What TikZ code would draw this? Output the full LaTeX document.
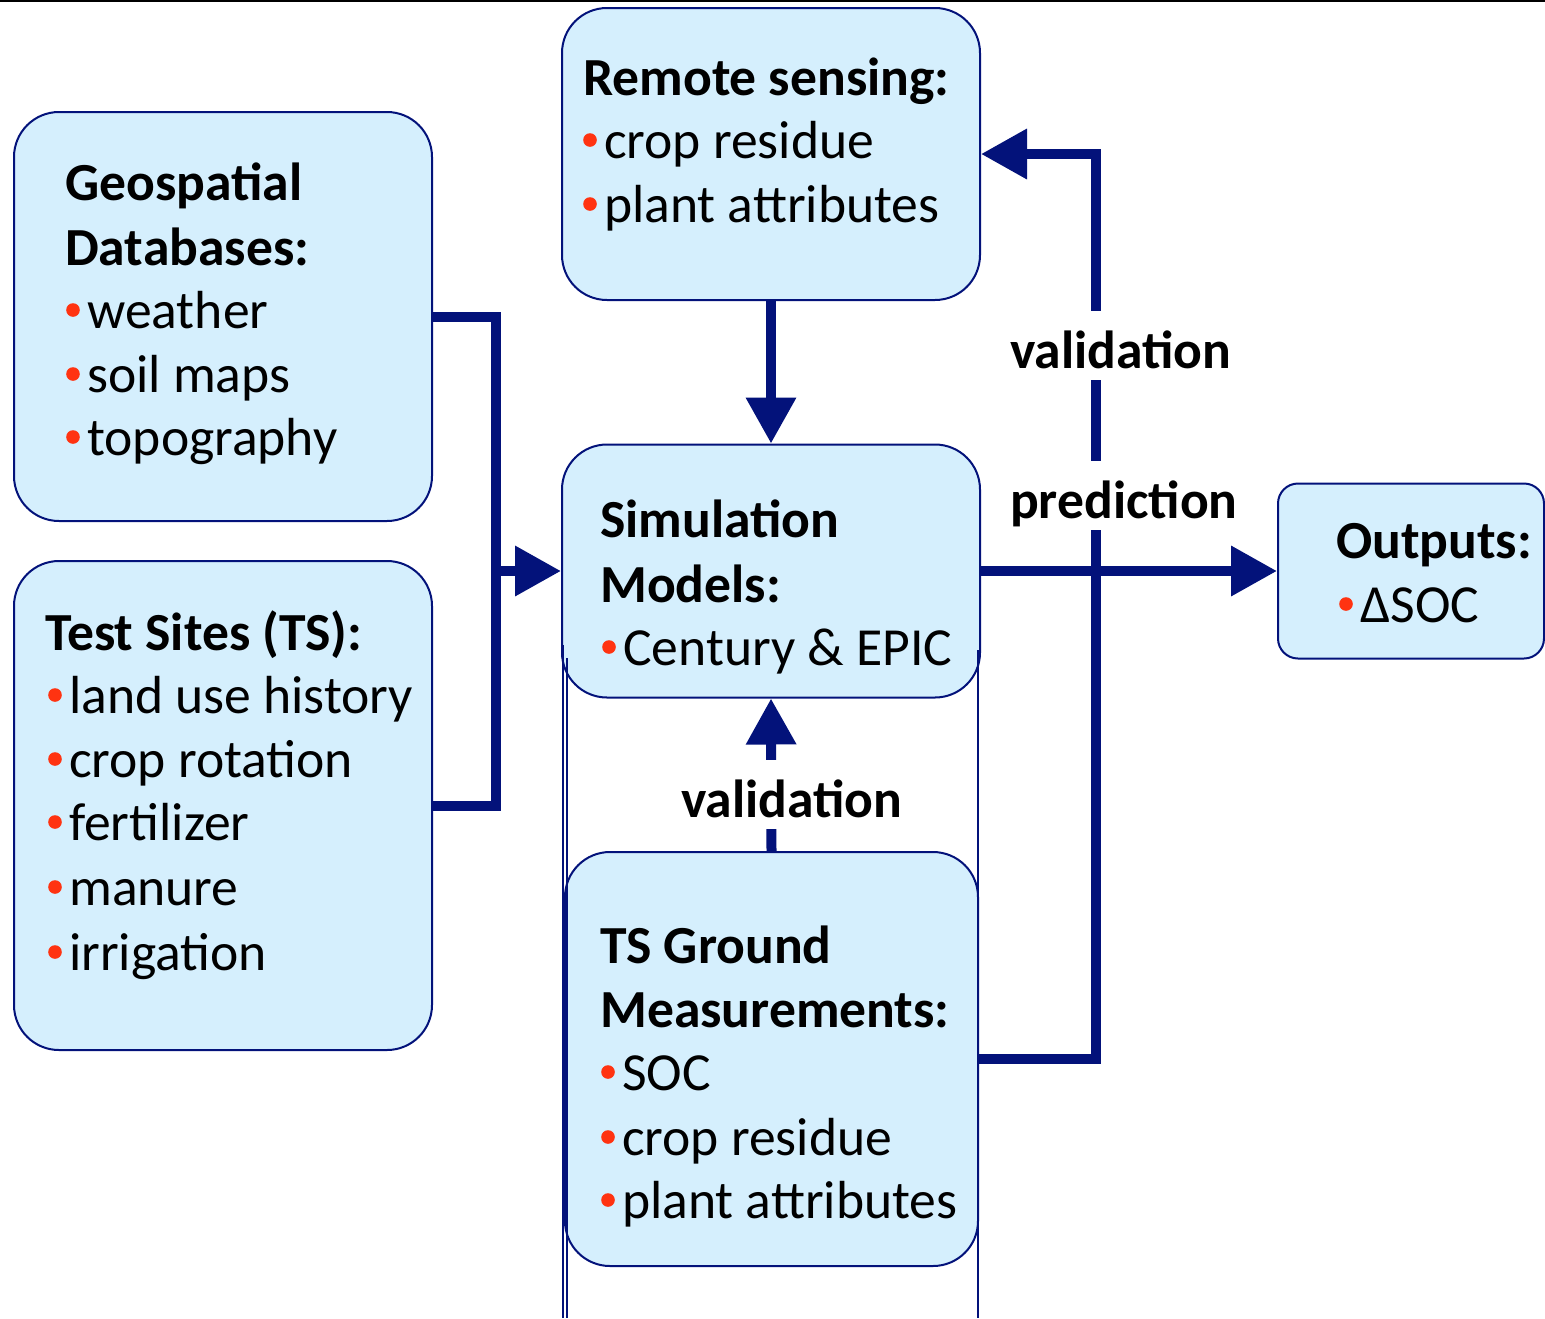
\documentclass[tikz,border=0pt]{standalone}
\usepackage{fontspec}
\setmainfont{Carlito}
\usetikzlibrary{arrows.meta, calc, positioning}
\definecolor{soilNavy}{HTML}{03127A}
\definecolor{boxBlue}{HTML}{D5EFFD}
\definecolor{dotRed}{HTML}{FF3311}
\newcommand{\bigsz}{\fontsize{53.6pt}{64pt}\selectfont}
\tikzset{
  blk/.style     = {draw=soilNavy, line width=2pt, fill=boxBlue,
                    rounded corners=45pt, inner sep=0pt},
  flow/.style    = {soilNavy, line width=10pt},
  tip/.style     = {-{Triangle[length=46pt, width=48pt]}},
  hdr/.style     = {font=\bigsz\bfseries, anchor=base west, inner sep=0pt},
  itm/.style     = {font=\bigsz, anchor=base west, inner sep=0pt},
  flowlbl/.style = {font=\bigsz\bfseries, anchor=base west, fill=white,
                    inner xsep=2pt, inner ysep=0pt, text height=57pt, text depth=12pt},
  seam/.style    = {soilNavy, line width=2pt},
}

\begin{document}
\begin{tikzpicture}[x=1pt, y=-1pt]
\newcommand{\bitem}[4]{% name, bullet x, baseline y, text
  \fill[dotRed] (#2,#3-18) circle (6.8pt);
  \node[itm] (#1) at (#2+14,#3) {#4};}
\useasboundingbox (0,0) rectangle (1545,1318);
\draw[black, line width=2pt] (0,1) -- (1545,1);

% boxes
\node[blk, minimum width=418pt, minimum height=292pt] (rs)  at (771,154)   {};
\node[blk, minimum width=418pt, minimum height=409pt] (geo) at (223,316.5) {};
\node[blk, minimum width=418pt, minimum height=489pt] (ts)  at (223,805.5) {};
\node[blk, minimum width=418pt, minimum height=253pt] (sim) at (771,571)   {};
\node[blk, minimum width=413pt, minimum height=414pt] (tsg) at (771.5,1059) {};
\node[blk, rounded corners=20pt, minimum width=266pt, minimum height=175pt]
  (out) at (1411,571) {};
\draw[seam] (563,645) -- (563,1318);
\draw[seam] (567,658) -- (567,1318);
\draw[seam] (978,650) -- (978,1318);

% connectors
\coordinate (mrg) at (496,571);
\coordinate (vrt) at (1096,0);
\draw[flow] (geo.east) -| (mrg) |- (ts.east);
\draw[flow, tip] (mrg) -- (sim.west);
\draw[flow, tip] (rs.south) -- (sim.north);
\draw[flow, tip] (tsg.north) -- (sim.south);
\draw[flow, tip] (sim.east) -- (out.west);
\draw[flow, tip] (tsg.east) -| (vrt |- rs.east) -- (rs.east);
\node[flowlbl] (val-up) at (1008,368) {validation};
\node[flowlbl] (pred)   at (1008,518) {prediction};
\node[flowlbl] (val-lo) at (679,817)  {validation};

% texts
\node[hdr] (rs-h) at (583,95) {Remote sensing:};
\bitem{rs-1}{590}{158}{crop residue}
\bitem{rs-2}{590}{222}{plant attributes}

\node[hdr] (geo-h1) at (65,200) {Geospatial};
\node[hdr] (geo-h2) at (65,265) {Databases:};
\bitem{geo-1}{73}{328}{weather}
\bitem{geo-2}{73}{392}{soil maps}
\bitem{geo-3}{73}{455}{topography}

\node[hdr] (ts-h) at (45,650) {Test Sites (TS):};
\bitem{ts-1}{55}{713}{land use history}
\bitem{ts-2}{55}{777}{crop rotation}
\bitem{ts-3}{55}{840}{fertilizer}
\bitem{ts-4}{55}{905}{manure}
\bitem{ts-5}{55}{970}{irrigation}

\node[hdr] (sim-h1) at (600,537) {Simulation};
\node[hdr] (sim-h2) at (600,602) {Models:};
\bitem{sim-1}{609}{665}{Century \& EPIC}

\node[hdr] (tsg-h1) at (600,963)  {TS Ground};
\node[hdr] (tsg-h2) at (600,1027) {Measurements:};
\bitem{tsg-1}{608}{1090}{SOC}
\bitem{tsg-2}{608}{1155}{crop residue}
\bitem{tsg-3}{608}{1218}{plant attributes}

\node[hdr] (out-h) at (1336,558) {Outputs:};
\bitem{out-1}{1346}{622}{ΔSOC}
\end{tikzpicture}
\end{document}
